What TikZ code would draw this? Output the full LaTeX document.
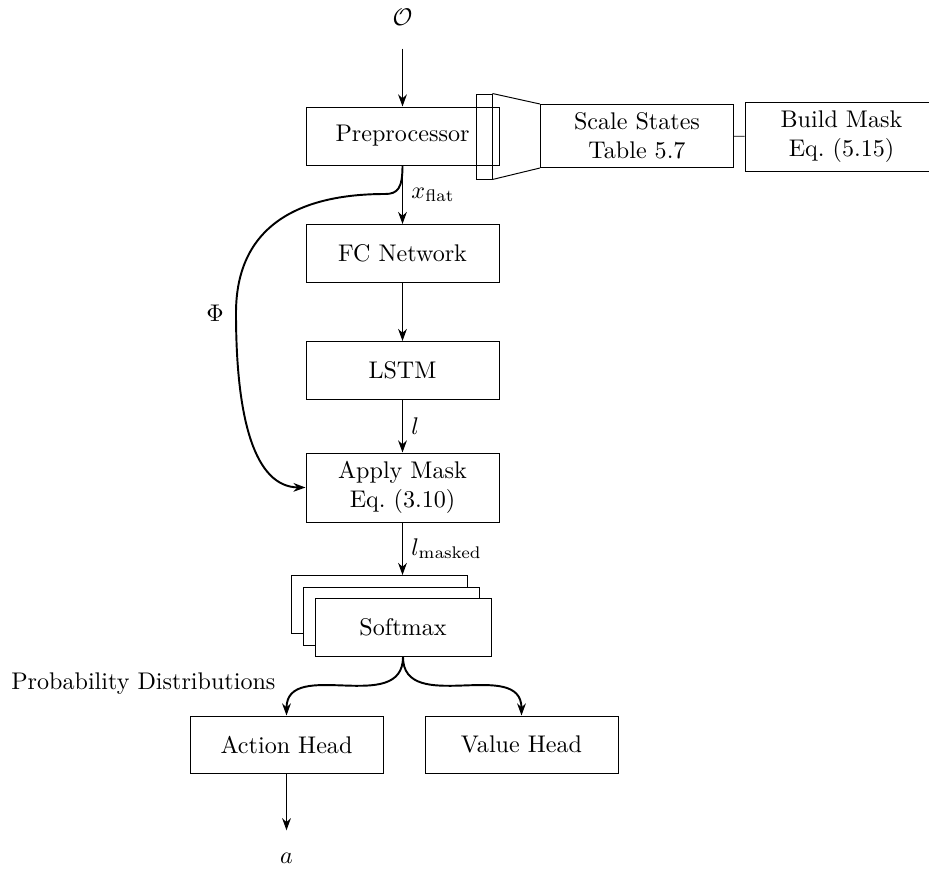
\documentclass[tikz,border=0pt]{standalone}
\usetikzlibrary{arrows.meta}
\def\px{0.415pt}
\begin{document}
\begin{tikzpicture}[x=\px,y=-\px,
  box/.style={draw, fill=white, align=center, inner sep=0pt,
    minimum width=193*\px, minimum height=58*\px},
  layer/.style={box, minimum width=176*\px, minimum height=58*\px},
  flow/.style={-{Stealth[length=5pt, width=3.6pt, inset=1.6pt]}, thick}]
\clip (0,0) rectangle (929,871);

% main column
\node (obs) at (402.5,17) {$\mathcal{O}$};
\node[box] (pre) at (402.5,136) {Preprocessor};
\node[box] (fc) at (402.5,253.5) {FC Network};
\node[box] (lstm) at (402.5,370.5) {LSTM};
\node[box, minimum height=69*\px] (apply) at (402.5,487.5) {Apply Mask\\Eq.~(3.10)};

% stacked softmax layers
\node[layer] (smback) at (379.5,604.5) {};
\node[layer] (smmid) at (391,616) {};
\node[layer] (sm) at (403,627.5) {Softmax};

% heads
\node[box, minimum height=57*\px] (action) at (286.5,744.5) {Action Head};
\node[box, minimum height=57*\px] (value) at (521.5,744.5) {Value Head};
\node (act) at (286.5,858) {$a$};

% magnified preprocessor stage
\node[box, minimum height=63*\px] (scale) at (637,136) {Scale States\\Table 5.7};
\node[box, minimum height=69*\px] (build) at (841.5,136.5) {Build Mask\\Eq.~(5.15)};
\node[draw, inner sep=0pt, minimum width=16*\px, minimum height=85*\px] (zoomwin) at (484,136.5) {};
\draw (zoomwin.north east) -- (scale.north west);
\draw (zoomwin.south east) -- (scale.south west);
\draw (scale) -- (build);

% connectors
\draw[flow, shorten <=15*\px] (obs) -- (pre);
\draw[flow] (pre) -- node[right] {$x_{\mathrm{flat}}$} (fc);
\draw[flow] (fc) -- (lstm);
\draw[flow] (lstm) -- node[right] {$l$} (apply);
\coordinate (smin) at (apply.south |- smback.north);
\draw[flow] (apply) -- node[right] {$l_{\mathrm{masked}}$} (smin);

\draw[flow] (pre.south) .. controls (402.5,188) and (398,194) .. (385,194)
  .. controls (300,194) and (236,225) .. (236,313)
  .. controls (236,420) and (255,487) .. (apply.west);
\node (phi) at (215,313) {$\Phi$};

\draw[flow] (sm.south) .. controls (403,716) and (286.5,657) .. (action.north);
\draw[flow] (sm.south) .. controls (403,716) and (521.5,657) .. (value.north);
\node[anchor=east] (prob) at (284,684) {Probability Distributions};
\draw[flow, shorten >=14*\px] (action) -- (act);
\end{tikzpicture}
\end{document}
